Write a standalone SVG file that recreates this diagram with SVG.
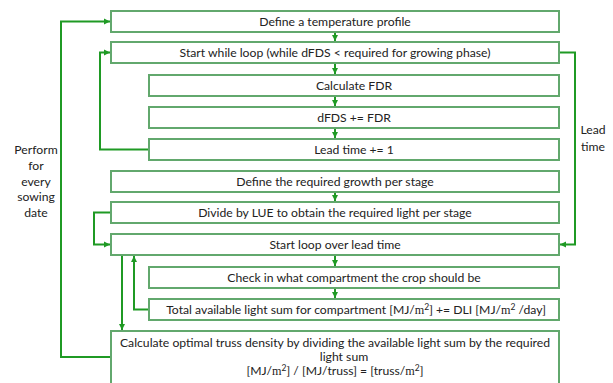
<svg xmlns="http://www.w3.org/2000/svg" width="613" height="383" viewBox="0 0 613 383">
  <style>
    .box { fill: #ffffff; stroke: #62a86d; stroke-width: 2; }
    .lbl { font-family: Lato, "Liberation Sans", sans-serif; font-size: 12.2px; fill: #222222; text-anchor: middle; }
    .side { font-family: Lato, "Liberation Sans", sans-serif; font-size: 12.2px; fill: #222222; text-anchor: middle; }
    .math { font-family: "Liberation Serif", serif; }
    .conn { fill: none; stroke: #1f9a24; stroke-width: 2; }
  </style>
  <defs>
    <marker id="arrow" markerUnits="userSpaceOnUse" markerWidth="7" markerHeight="7" refX="6" refY="3.5" orient="auto">
      <path d="M0,0.5 L6,3.5 L0,6.5 Z" fill="#1f9a24"/>
    </marker>
  </defs>
  <rect width="613" height="383" fill="#ffffff"/>

  <!-- Connectors -->
  <g id="connectors">
    <path class="conn" d="M335,32 V41" marker-end="url(#arrow)"/>
    <path class="conn" d="M335,63 V74" marker-end="url(#arrow)"/>
    <path class="conn" d="M335,96 V106" marker-end="url(#arrow)"/>
    <path class="conn" d="M335,128 V138" marker-end="url(#arrow)"/>
    <path class="conn" d="M335,192 V201" marker-end="url(#arrow)"/>
    <path class="conn" d="M335,255 V266" marker-end="url(#arrow)"/>
    <path class="conn" d="M335,288 V298" marker-end="url(#arrow)"/>
    <!-- inner while loop -->
    <path class="conn" d="M149,149.5 H100 V52.5 H110" marker-end="url(#arrow)"/>
    <!-- outer sowing date loop -->
    <path class="conn" d="M111,357 H61 V21.5 H110" marker-end="url(#arrow)"/>
    <!-- light per stage into lead time loop -->
    <path class="conn" d="M111,212.5 H94 V244.5 H110" marker-end="url(#arrow)"/>
    <!-- lead time -->
    <path class="conn" d="M559,52.5 H575 V244.5 H560" marker-end="url(#arrow)"/>
    <!-- lead time loop exit -->
    <path class="conn" d="M122,255 V330" marker-end="url(#arrow)"/>
    <!-- lead time loop return -->
    <path class="conn" d="M149,309.5 H134 V256" marker-end="url(#arrow)"/>
  </g>

  <g id="n-temp-profile">
    <rect class="box" x="111" y="11" width="448" height="21"/>
    <text class="lbl" x="335" y="26">Define a temperature profile</text>
  </g>
  <g id="n-while-loop">
    <rect class="box" x="111" y="42" width="448" height="21"/>
    <text class="lbl" x="335" y="57">Start while loop (while dFDS &lt; required for growing phase)</text>
  </g>
  <g id="n-calc-fdr">
    <rect class="box" x="149" y="75" width="410" height="21"/>
    <text class="lbl" x="354" y="90">Calculate FDR</text>
  </g>
  <g id="n-dfds">
    <rect class="box" x="149" y="107" width="410" height="21"/>
    <text class="lbl" x="354" y="122">dFDS += FDR</text>
  </g>
  <g id="n-lead-time">
    <rect class="box" x="149" y="139" width="410" height="21"/>
    <text class="lbl" x="354" y="154">Lead time += 1</text>
  </g>
  <g id="n-growth">
    <rect class="box" x="111" y="171" width="448" height="21"/>
    <text class="lbl" x="335" y="186">Define the required growth per stage</text>
  </g>
  <g id="n-lue">
    <rect class="box" x="111" y="202" width="448" height="21"/>
    <text class="lbl" x="335" y="217">Divide by LUE to obtain the required light per stage</text>
  </g>
  <g id="n-loop-lead">
    <rect class="box" x="111" y="234" width="448" height="21"/>
    <text class="lbl" x="335" y="249">Start loop over lead time</text>
  </g>
  <g id="n-compartment">
    <rect class="box" x="149" y="267" width="410" height="21"/>
    <text class="lbl" x="354" y="282">Check in what compartment the crop should be</text>
  </g>
  <g id="n-light-sum">
    <rect class="box" x="149" y="299" width="410" height="21"/>
    <text class="lbl" x="356" y="314">Total available light sum for compartment [MJ/<tspan class="math">m</tspan><tspan font-size="8.5" dy="-4.5">2</tspan><tspan dy="4.5">] += DLI [MJ/</tspan><tspan class="math">m</tspan><tspan font-size="8.5" dy="-4.5">2</tspan><tspan dy="4.5"> /day]</tspan></text>
  </g>
  <g id="n-truss">
    <rect class="box" x="111" y="331" width="448" height="60"/>
    <text class="lbl" x="335" y="346.5">Calculate optimal truss density by dividing the available light sum by the required</text>
    <text class="lbl" x="344" y="360.5">light sum</text>
    <text class="lbl" x="335" y="375">[MJ/<tspan class="math">m</tspan><tspan font-size="8.5" dy="-4.5">2</tspan><tspan dy="4.5">] / [MJ/truss] = [truss/</tspan><tspan class="math">m</tspan><tspan font-size="8.5" dy="-4.5">2</tspan><tspan dy="4.5">]</tspan></text>
  </g>

  <g id="label-sowing">
    <text class="side" x="36" y="154">Perform</text>
    <text class="side" x="36" y="170">for</text>
    <text class="side" x="36" y="186">every</text>
    <text class="side" x="36" y="201">sowing</text>
    <text class="side" x="36" y="217">date</text>
  </g>
  <g id="label-lead">
    <text class="side" x="593" y="134">Lead</text>
    <text class="side" x="593" y="151">time</text>
  </g>
</svg>
